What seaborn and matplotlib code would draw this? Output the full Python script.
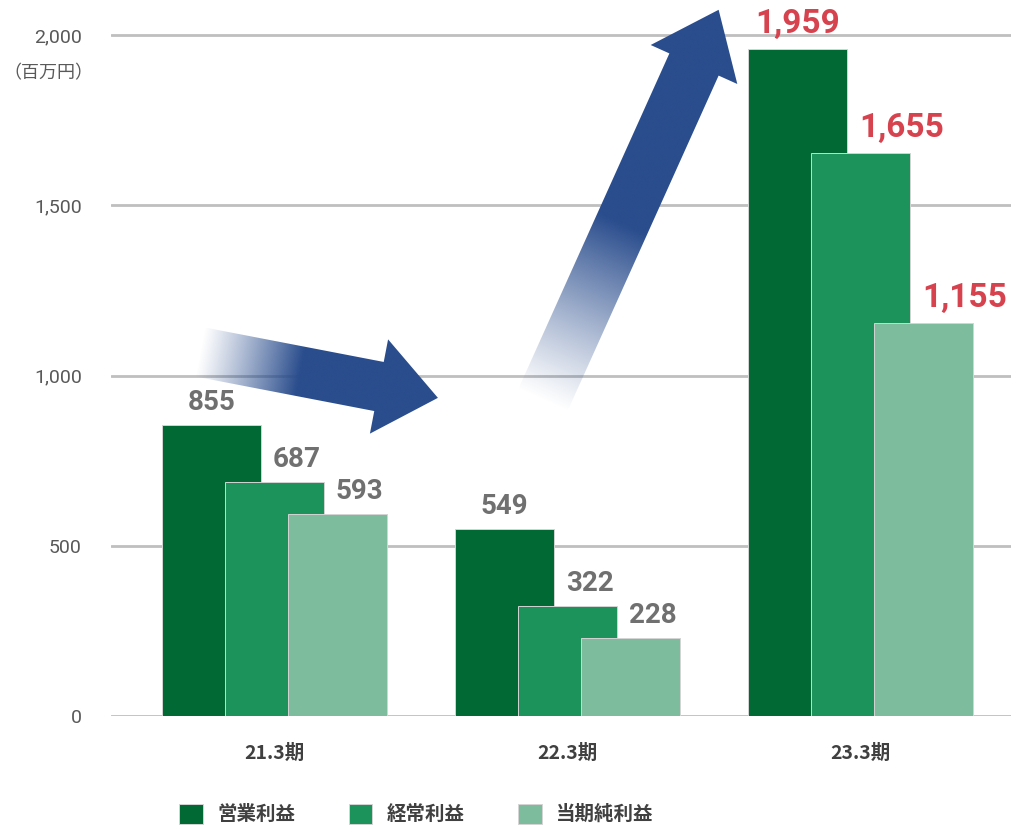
import numpy as np
import pandas as pd
import matplotlib
matplotlib.use("Agg")
import matplotlib.pyplot as plt
from matplotlib.patches import Polygon, Patch
import seaborn as sns

# ---- data -------------------------------------------------------------
periods = ["21.3期", "22.3期", "23.3期"]
series = ["営業利益", "経常利益", "当期純利益"]
op_profit = [855, 549, 1959]
ordinary_profit = [687, 322, 1655]
net_profit = [593, 228, 1155]
y_ticks = [0, 500, 1000, 1500, 2000]
unit_label = "（百万円）"

bar_colors = ["#006934", "#1d935c", "#7dbc9c"]
label_gray = "#707070"
label_red = "#d6434f"
arrow_color = "#2a4d8d"

df = pd.DataFrame({
    "period": np.repeat(periods, len(series)),
    "series": series * len(periods),
    "value": [v for trio in zip(op_profit, ordinary_profit, net_profit) for v in trio],
})

# ---- figure -----------------------------------------------------------
sns.set_theme(style="white")
plt.rcParams["font.family"] = ["Roboto", "Noto Sans CJK JP", "DejaVu Sans"]

W, H = 1011, 826
fig = plt.figure(figsize=(W / 100, H / 100), dpi=100)
ax = fig.add_axes([111 / W, 1 - 716 / H, 900 / W, (716 - 8) / H])

slot = 0.645
sns.barplot(data=df, x="period", y="value", hue="series", order=periods,
            hue_order=series, palette=bar_colors, width=slot, dodge=True,
            edgecolor="#d4d4d4", linewidth=0.7, saturation=1, legend=False, ax=ax)

# overlapping bars: keep each bar's centre, widen it past its slot
step = slot / 3
bar_w = step * 99 / 63
for cont in ax.containers:
    for p in cont.patches:
        c = p.get_x() + p.get_width() / 2
        p.set_x(c - bar_w / 2)
        p.set_width(bar_w)

ax.set_xlim(-0.558, 2.5137)
ax.set_ylim(0, 2080)
ax.set_yticks(y_ticks)
ax.set_yticklabels([f"{t:,}" for t in y_ticks], fontsize=14, color="#595959",
                   family=["Roboto", "DejaVu Sans"])
ax.set_xticks(range(len(periods)))
ax.set_xticklabels(periods, fontsize=14, color="#404040", fontweight="bold",
                   family=["Noto Sans CJK JP", "DejaVu Sans"])
ax.tick_params(axis="y", length=0, pad=21)
ax.tick_params(axis="x", length=0, pad=20)
ax.set_xlabel("")
ax.set_ylabel("")
for s in ax.spines.values():
    s.set_visible(False)
ax.set_axisbelow(True)
ax.yaxis.grid(True, color="#bfbfbf", linewidth=2.0)
ax.xaxis.grid(False)

# value labels
for si, cont in enumerate(ax.containers):
    for pi, p in enumerate(cont.patches):
        v = p.get_height()
        col = label_red if pi == len(periods) - 1 else label_gray
        fs = 24 if pi == len(periods) - 1 else 20
        c = p.get_x() + p.get_width() / 2
        if si == 0:
            ax.annotate(f"{int(round(v)):,}", xy=(c, v), xytext=(0, 9),
                        textcoords="offset pixels", ha="center", va="bottom",
                        fontsize=fs, fontweight="bold", color=col,
                        family=["Roboto", "DejaVu Sans"])
        else:
            prev_right = c - step + bar_w / 2
            ax.annotate(f"{int(round(v)):,}", xy=(prev_right, v), xytext=(12, 9),
                        textcoords="offset pixels", ha="left", va="bottom",
                        fontsize=fs, fontweight="bold", color=col,
                        family=["Roboto", "DejaVu Sans"])

fig.text(48 / W, 1 - 73 / H, unit_label, ha="center", va="center", fontsize=13,
         color="#595959", family=["Noto Sans CJK JP", "DejaVu Sans"])

# legend
handles = [Patch(facecolor=c, edgecolor="#d4d4d4", linewidth=0.7) for c in bar_colors]
leg = fig.legend(handles, series, loc="center", bbox_to_anchor=(0.412, 1 - 814 / H),
                 ncol=3, frameon=False, handlelength=1.2, handleheight=1.2,
                 handletextpad=0.75, columnspacing=2.75, borderpad=0,
                 prop={"family": ["Noto Sans CJK JP", "DejaVu Sans"],
                       "size": 14, "weight": "bold"})
for t in leg.get_texts():
    t.set_color("#404040")

# ---- gradient arrows (drawn in pixel space on an overlay) ------------
ov = fig.add_axes([0, 0, 1, 1], zorder=5)
ov.set_xlim(0, W)
ov.set_ylim(H, 0)
ov.axis("off")
ov.patch.set_alpha(0)


def gradient_arrow(tail, base, tip_len, shaft_w, head_w, fade_to):
    tail = np.asarray(tail, float)
    base = np.asarray(base, float)
    d = base - tail
    L = np.hypot(*d)
    u = d / L
    n = np.array([-u[1], u[0]])
    tip = base + u * tip_len
    pts = [tail + n * shaft_w / 2, base + n * shaft_w / 2, base + n * head_w / 2, tip,
           base - n * head_w / 2, base - n * shaft_w / 2, tail - n * shaft_w / 2]
    poly = Polygon(pts, closed=True, facecolor="none", edgecolor="none")
    ov.add_patch(poly)
    pts = np.array(pts)
    x0, y0 = pts.min(axis=0) - 2
    x1, y1 = pts.max(axis=0) + 2
    xs = np.linspace(x0, x1, 400)
    ys = np.linspace(y0, y1, 400)
    X, Y = np.meshgrid(xs, ys)
    t = ((X - tail[0]) * u[0] + (Y - tail[1]) * u[1]) / (L + tip_len)
    a = np.clip(t / fade_to, 0, 1) ** 1.1
    rgb = matplotlib.colors.to_rgb(arrow_color)
    img = np.zeros(X.shape + (4,))
    img[..., 0], img[..., 1], img[..., 2] = rgb
    img[..., 3] = a
    im = ov.imshow(img, extent=(x0, x1, y1, y0), origin="upper",
                   interpolation="bilinear", aspect="auto")
    im.set_clip_path(poly)


gradient_arrow((200, 352), (379, 386.5), 60, 50, 96, 0.42)
gradient_arrow((542.5, 401), (694, 64.5), 60, 54, 95, 0.45)
ov.set_xlim(0, W)
ov.set_ylim(H, 0)

fig.savefig("out.png", dpi=100)
